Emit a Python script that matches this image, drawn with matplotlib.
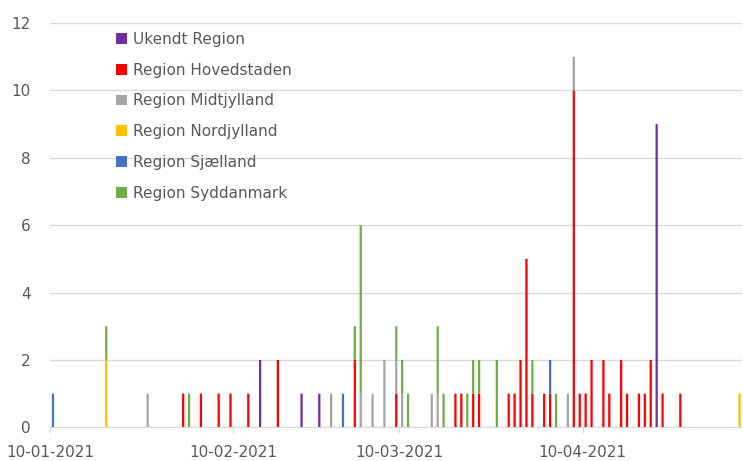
import matplotlib
matplotlib.use("Agg")
import matplotlib.pyplot as plt
import matplotlib.dates as mdates
import pandas as pd

# cases per day and region
ukendt_dates = ["2021-02-14", "2021-02-21", "2021-02-24", "2021-04-22"]
ukendt_vals = [2, 1, 1, 9]

hoved_dates = ["2021-02-01", "2021-02-04", "2021-02-07", "2021-02-09", "2021-02-12",
               "2021-02-17", "2021-03-02", "2021-03-09", "2021-03-19", "2021-03-20",
               "2021-03-22", "2021-03-23", "2021-03-28", "2021-03-29", "2021-03-30",
               "2021-03-31", "2021-04-01", "2021-04-03", "2021-04-04", "2021-04-08",
               "2021-04-09", "2021-04-10", "2021-04-11", "2021-04-13", "2021-04-14",
               "2021-04-16", "2021-04-17", "2021-04-19", "2021-04-20", "2021-04-21",
               "2021-04-23", "2021-04-26"]
hoved_vals = [1, 1, 1, 1, 1,
              2, 2, 1, 1, 1,
              1, 1, 1, 1, 2,
              5, 1, 1, 1, 10,
              1, 1, 2, 2, 1,
              2, 1, 1, 1, 2,
              1, 1]

midt_dates = ["2021-01-26", "2021-02-26", "2021-03-03", "2021-03-05", "2021-03-07",
              "2021-03-09", "2021-03-10", "2021-03-15", "2021-03-16", "2021-04-07",
              "2021-04-08"]
midt_vals = [1, 1, 1, 1, 2, 1, 1, 1, 1, 1, 1]

nord_dates = ["2021-01-19", "2021-05-06"]
nord_vals = [2, 1]

sjael_dates = ["2021-01-10", "2021-02-28", "2021-04-04"]
sjael_vals = [1, 1, 1]

syd_dates = ["2021-01-19", "2021-02-02", "2021-03-02", "2021-03-03", "2021-03-09",
             "2021-03-10", "2021-03-11", "2021-03-16", "2021-03-17", "2021-03-21",
             "2021-03-22", "2021-03-23", "2021-03-26", "2021-04-01", "2021-04-05"]
syd_vals = [1, 1, 1, 5, 1, 1, 1, 2, 1, 1, 1, 1, 2, 1, 1]

regions = ["Ukendt Region", "Region Hovedstaden", "Region Midtjylland",
           "Region Nordjylland", "Region Sjælland", "Region Syddanmark"]
colors = ["#7030A0", "#FF0000", "#A5A5A5", "#FFC000", "#4472C4", "#70AD47"]

start, end = "2021-01-10", "2021-05-06"
days = pd.date_range(start, end, freq="D")

series = [(ukendt_dates, ukendt_vals), (hoved_dates, hoved_vals),
          (midt_dates, midt_vals), (nord_dates, nord_vals),
          (sjael_dates, sjael_vals), (syd_dates, syd_vals)]

df = pd.DataFrame(0, index=days, columns=regions)
for name, (d, v) in zip(regions, series):
    df.loc[pd.to_datetime(d), name] = v

fig = plt.figure(figsize=(7.43, 4.61), dpi=100)
ax = fig.add_axes([0.0673, 0.073, 0.932, 0.877])

x = df.index + pd.Timedelta(hours=12)
bottom = pd.Series(0, index=df.index)
for name, col in zip(regions, colors):
    ax.bar(x, df[name], width=0.38, bottom=bottom, color=col, label=name,
           linewidth=0, zorder=3, snap=False)
    bottom = bottom + df[name]

ax.set_xlim(pd.Timestamp(start), pd.Timestamp(end) + pd.Timedelta(days=1))
ax.set_ylim(0, 12)
ax.set_yticks(range(0, 13, 2))
ax.yaxis.grid(True, color="#D9D9D9", linewidth=1, zorder=0)
ax.set_axisbelow(True)

ticks = pd.to_datetime(["2021-01-10", "2021-02-10", "2021-03-10", "2021-04-10"])
ax.set_xticks(ticks)
ax.xaxis.set_major_formatter(mdates.DateFormatter("%d-%m-%Y"))

for s in ["top", "right", "left"]:
    ax.spines[s].set_visible(False)
ax.spines["bottom"].set_color("#D9D9D9")
ax.tick_params(axis="y", length=0, pad=14, labelsize=11, labelcolor="#595959")
ax.tick_params(axis="x", length=4, color="#D9D9D9", pad=9, labelsize=11,
               labelcolor="#595959")

ax.legend(loc="upper left", bbox_to_anchor=(0.076, 1.012), frameon=False,
          fontsize=11, handlelength=0.7, handleheight=0.7, handletextpad=0.4,
          labelspacing=1.03, labelcolor="#595959")

fig.savefig("out.png", dpi=100)
